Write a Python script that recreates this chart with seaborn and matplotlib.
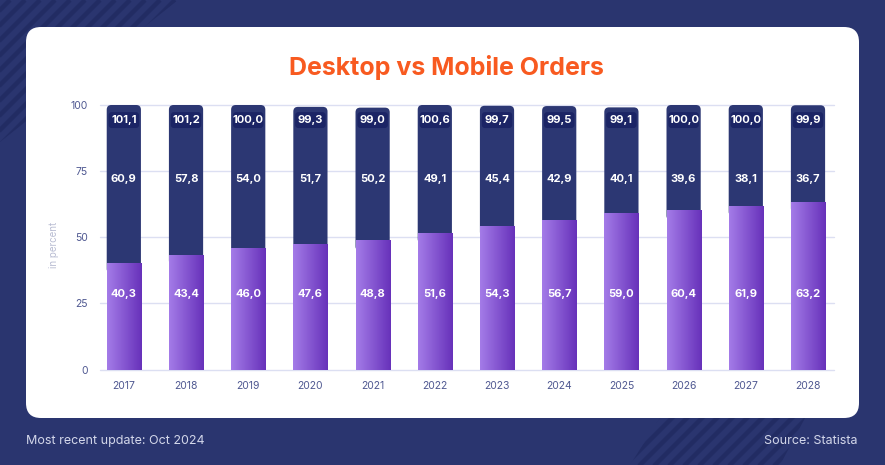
import numpy as np
import pandas as pd
import matplotlib.pyplot as plt
import seaborn as sns
from matplotlib.patches import FancyBboxPatch, Polygon
from matplotlib.colors import LinearSegmentedColormap

# data
years = ['2017', '2018', '2019', '2020', '2021', '2022',
         '2023', '2024', '2025', '2026', '2027', '2028']
mobile = [40.3, 43.4, 46.0, 47.6, 48.8, 51.6, 54.3, 56.7, 59.0, 60.4, 61.9, 63.2]
desktop = [60.9, 57.8, 54.0, 51.7, 50.2, 49.1, 45.4, 42.9, 40.1, 39.6, 38.1, 36.7]
totals = [101.1, 101.2, 100.0, 99.3, 99.0, 100.6, 99.7, 99.5, 99.1, 100.0, 100.0, 99.9]
yticks = [0, 25, 50, 75, 100]

BG = '#2a356f'
STRIPE = '#222c63'
NAVY = '#2c3773'
BOX = '#1b2465'
GRID = '#dcdff2'
TICK = '#4f5891'

df = pd.DataFrame({'year': years, 'mobile': mobile, 'desktop': desktop})
df['stack'] = df['mobile'] + df['desktop']


def fmt(v):
    return f'{v:.1f}'.replace('.', ',')


sns.set_theme(style='white')
plt.rcParams['font.family'] = ['Inter', 'DejaVu Sans']

fig = plt.figure(figsize=(8.85, 4.65), dpi=100, facecolor=BG)

# background layer in pixel coordinates: stripes + white card
bg = fig.add_axes([0, 0, 1, 1])
bg.set_xlim(0, 885)
bg.set_ylim(465, 0)
bg.axis('off')
for region in [[(0, 0), (178, 0), (0, 142)],
               [(660, 418), (805, 418), (780, 465), (630, 465)]]:
    clip = Polygon(region, closed=True, facecolor='none', edgecolor='none')
    bg.add_patch(clip)
    for c in range(-20, 1400, 15):
        ln, = bg.plot([c, c - 500], [0, 500], color=STRIPE, lw=3.2,
                      solid_capstyle='butt', zorder=1)
        ln.set_clip_path(clip)
card = FancyBboxPatch((26, 27), 833, 391, boxstyle='round,pad=0,rounding_size=15',
                      facecolor='white', edgecolor='none', zorder=5)
bg.add_patch(card)

fig.text(446 / 885, 1 - 67 / 465, 'Desktop vs Mobile Orders', color='#f85a20',
         fontsize=18, fontweight='bold', ha='center', va='center')
fig.text(26 / 885, 1 - 441 / 465, 'Most recent update: Oct 2024', color='#d3d7ea',
         fontsize=9, ha='left', va='center')
fig.text(858 / 885, 1 - 441 / 465, 'Source: Statista', color='#d3d7ea',
         fontsize=9, ha='right', va='center')

# chart axes
ax = fig.add_axes([100 / 885, 1 - 369.5 / 465, 734 / 885, 264.5 / 465])
ax.patch.set_alpha(0)

sns.barplot(data=df, x='year', y='stack', color=NAVY, width=0.55,
            saturation=1, ax=ax)
n_top = len(ax.patches)
sns.barplot(data=df, x='year', y='mobile', color='#8a5ad8', width=0.55,
            saturation=1, ax=ax)

xlim = (-0.383, 11.418)
ylim = (0, 100)
ax.set_xlim(*xlim)
ax.set_ylim(*ylim)

# x data units per pixel vs y data units per pixel, for round corners
aspect = (100 / 264.5) / ((xlim[1] - xlim[0]) / 734)

top_bars = ax.patches[:n_top]
low_bars = ax.patches[n_top:]

for p, q in zip(top_bars, low_bars):
    x0, w = p.get_x(), p.get_width()
    base = q.get_height() - 4  # tucked under the purple segment
    top = min(p.get_height(), ylim[1])
    p.set_visible(False)
    ax.add_patch(FancyBboxPatch((x0, base), w, top - base,
                                boxstyle='round,pad=0,rounding_size=0.075',
                                mutation_aspect=aspect, facecolor=NAVY,
                                edgecolor='none', zorder=2))

cmap = LinearSegmentedColormap.from_list('mob', ['#a47ce8', '#6731ba'])
grad = np.linspace(0, 1, 256).reshape(1, -1)
for p in low_bars:
    x0, w, h = p.get_x(), p.get_width(), p.get_height()
    p.set_facecolor('none')
    p.set_edgecolor('none')
    p.set_linewidth(0)
    im = ax.imshow(grad, cmap=cmap, extent=(x0, x0 + w, 0, h), aspect='auto',
                   interpolation='bicubic', zorder=3)
    im.set_clip_path(p)

for i, p in enumerate(low_bars):
    cx = p.get_x() + p.get_width() / 2
    ax.text(cx, 28.5, fmt(mobile[i]), color='white', fontsize=8,
            fontweight='bold', ha='center', va='center', zorder=5)
    ax.text(cx, 72.0, fmt(desktop[i]), color='white', fontsize=8,
            fontweight='bold', ha='center', va='center', zorder=5)
    bw = 0.49
    ax.add_patch(FancyBboxPatch((cx - bw / 2, 94.3 - 3.0), bw, 6.0,
                                boxstyle='round,pad=0,rounding_size=0.05',
                                mutation_aspect=aspect, facecolor=BOX,
                                edgecolor='none', zorder=4))
    ax.text(cx, 94.3, fmt(totals[i]), color='white', fontsize=8,
            fontweight='bold', ha='center', va='center', zorder=5)

ax.set_xlim(*xlim)
ax.set_ylim(*ylim)
ax.set_yticks(yticks)
for t in yticks:
    ax.axhline(t, color=GRID, lw=1, zorder=0, clip_on=False)
sns.despine(ax=ax, left=True, bottom=True)
ax.tick_params(axis='both', length=0, labelsize=7.5, labelcolor=TICK)
ax.tick_params(axis='y', pad=9)
ax.tick_params(axis='x', pad=8)
ax.set_xlabel('')
ax.set_ylabel('in percent', color='#b8bcd2', fontsize=7, labelpad=20)
ax.yaxis.set_label_coords(-0.056, 0.47)

fig.savefig('out.png', dpi=100, facecolor=BG)
